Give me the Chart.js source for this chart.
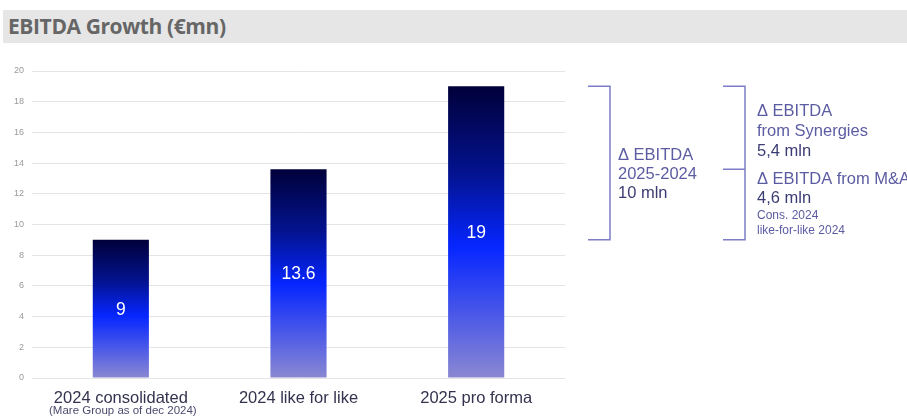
<!DOCTYPE html>
<html>
<head>
<meta charset="utf-8">
<script src="https://cdn.jsdelivr.net/npm/chart.js@4"></script>
<style>
  body { margin: 0; background: #fff; }
  #head {
    position: absolute; left: 3px; top: 10px; width: 904px; height: 33px;
    background: #e6e6e6;
    font-family: "Open Sans", sans-serif; font-weight: 700; font-size: 21px;
    color: #666; line-height: 33px; padding-left: 5px; box-sizing: border-box;
    letter-spacing: -0.4px;
  }
  #wrap { position: absolute; left: 0; top: 0; width: 907px; height: 418px; }
</style>
</head>
<body>
<div id="wrap"><canvas id="chart-1"></canvas></div>
<div id="head">EBITDA Growth (€mn)</div>
<script>
const categories = ["2024 consolidated", "2024 like for like", "2025 pro forma"];
const subLabels = ["(Mare Group as of dec 2024)", "", ""];
const ebitda = [9, 13.6, 19];
const valueLabels = ["9", "13.6", "19"];

const FONT = "'Liberation Sans', Arial, sans-serif";

function barGradient(c) {
  const chart = c.chart;
  const { chartArea, scales } = chart;
  if (!chartArea) return "#0020ff";
  const top = scales.y.getPixelForValue(c.raw);
  const bot = scales.y.getPixelForValue(0);
  const g = chart.ctx.createLinearGradient(0, top, 0, bot);
  g.addColorStop(0, "#01003a");
  g.addColorStop(0.3, "#031390");
  g.addColorStop(0.55, "#0626ff");
  g.addColorStop(1, "#8a88d2");
  return g;
}

// value labels inside the bars + sub label under the first category
const barText = {
  id: "barText",
  afterDatasetsDraw(chart) {
    const ctx = chart.ctx;
    const meta = chart.getDatasetMeta(0);
    ctx.save();
    ctx.fillStyle = "#ffffff";
    ctx.font = "17.5px " + FONT;
    ctx.textAlign = "center";
    ctx.textBaseline = "middle";
    meta.data.forEach((bar, i) => {
      const mid = (bar.y + bar.base) / 2;
      ctx.fillText(valueLabels[i], bar.x, mid + 1);
    });
    ctx.fillStyle = "#4a4a6e";
    ctx.font = "11.5px " + FONT;
    subLabels.forEach((s, i) => {
      if (s) ctx.fillText(s, chart.scales.x.getPixelForValue(i) + 2, 411);
    });
    ctx.restore();
  },
};

// brackets and notes on the right
const notes = {
  id: "notes",
  afterDraw(chart) {
    const ctx = chart.ctx;
    const y = chart.scales.y;
    const yTop = y.getPixelForValue(ebitda[2]);
    const yMid = y.getPixelForValue(ebitda[1]);
    const yBot = y.getPixelForValue(ebitda[0]);
    ctx.save();
    ctx.strokeStyle = "#7d7dc8";
    ctx.lineWidth = 1.5;
    ctx.beginPath();
    ctx.moveTo(588, yTop); ctx.lineTo(610, yTop); ctx.lineTo(610, yBot); ctx.lineTo(588, yBot);
    ctx.moveTo(723, yTop); ctx.lineTo(745, yTop); ctx.lineTo(745, yBot); ctx.lineTo(723, yBot);
    ctx.moveTo(723, yMid); ctx.lineTo(745, yMid);
    ctx.stroke();

    ctx.textAlign = "left";
    ctx.textBaseline = "middle";
    const light = "#5c5ca2", dark = "#3c3c74";
    const lines = [
      [618, 155, "Δ EBITDA", light, 16.5],
      [618, 174, "2025-2024", light, 16.5],
      [618, 193, "10 mln", dark, 16.5],
      [757, 111, "Δ EBITDA", light, 16.5],
      [757, 131, "from Synergies", light, 16.5],
      [757, 151, "5,4 mln", dark, 16.5],
      [757, 179, "Δ EBITDA from M&A", light, 16.5],
      [757, 198, "4,6 mln", dark, 16.5],
      [757, 216, "Cons. 2024", light, 12],
      [757, 231, "like-for-like 2024", light, 12],
    ];
    lines.forEach(([x, yy, t, col, sz]) => {
      ctx.fillStyle = col;
      ctx.font = sz + "px " + FONT;
      ctx.fillText(t, x, yy);
    });
    ctx.restore();
  },
};

const ctx1 = document.getElementById("chart-1").getContext("2d");
const myChart = new Chart(ctx1, {
  type: "bar",
  data: {
    labels: categories,
    datasets: [
      {
        label: "EBITDA",
        data: ebitda,
        backgroundColor: barGradient,
        borderWidth: 0,
        categoryPercentage: 1,
        barPercentage: 0.316,
      },
    ],
  },
  options: {
    responsive: true,
    maintainAspectRatio: false,
    animation: false,
    layout: { padding: { top: 71, right: 342, left: 0, bottom: 0 } },
    plugins: { legend: { display: false }, tooltip: { enabled: false } },
    scales: {
      x: {
        grid: { display: false },
        border: { display: false },
        ticks: { color: "#33334f", font: { size: 16.5, family: FONT }, padding: 3 },
        afterFit(s) { s.height = 40; },
      },
      y: {
        min: 0,
        max: 20,
        ticks: { stepSize: 2, color: "#999", font: { size: 9, family: FONT }, padding: 8 },
        grid: { color: "#e4e4e4", drawTicks: false },
        border: { display: false },
        afterFit(s) { s.width = 32; },
      },
    },
  },
  plugins: [barText, notes],
});
</script>
</body>
</html>
